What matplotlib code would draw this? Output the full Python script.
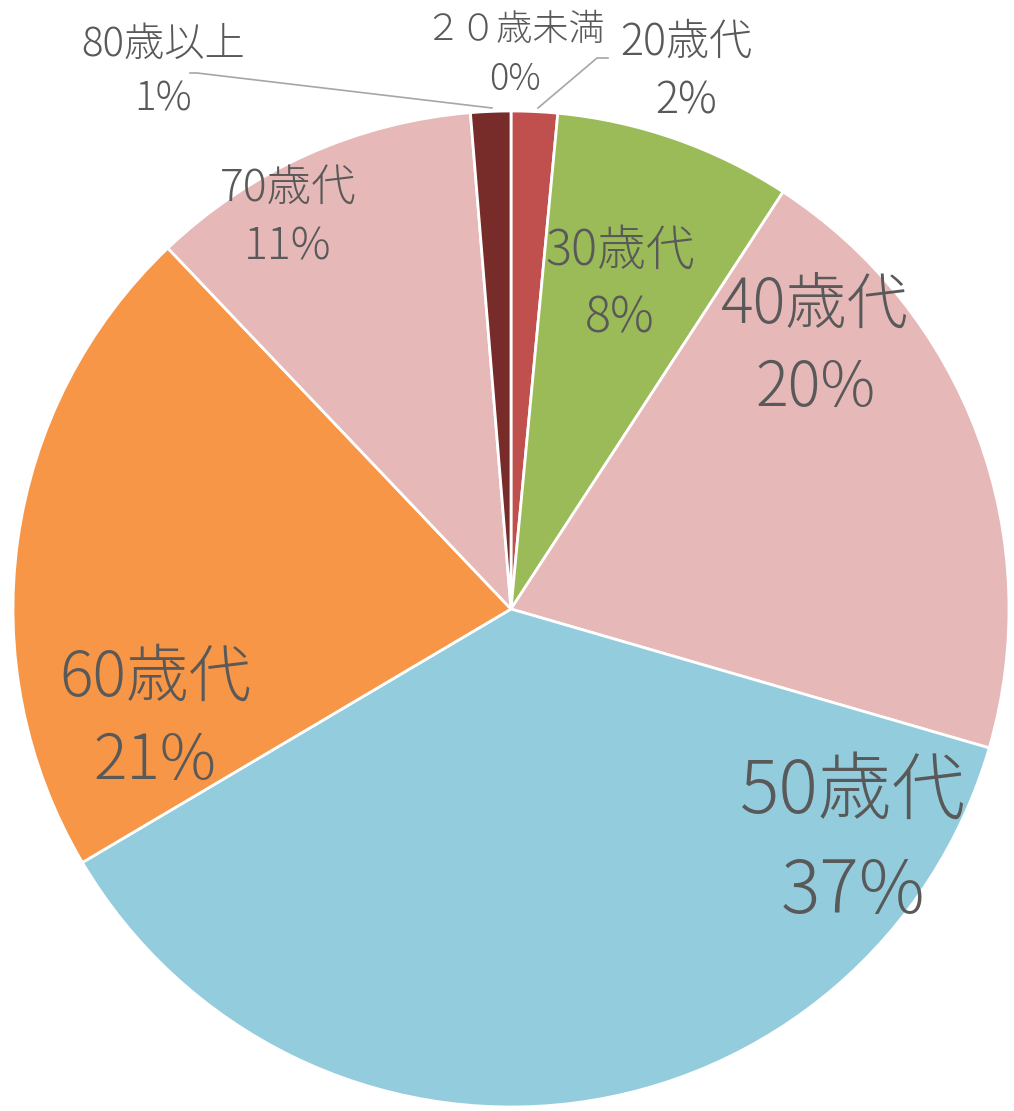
import matplotlib
matplotlib.use('Agg')
import matplotlib.pyplot as plt

plt.rcParams['font.family'] = ['Noto Sans CJK JP', 'DejaVu Sans']

# data, clockwise from 12 o'clock
age_groups = ["２０歳未満", "20歳代", "30歳代", "40歳代", "50歳代", "60歳代", "70歳代", "80歳以上"]
shares = [0.0, 1.5, 7.7, 20.3, 37.0, 21.4, 10.8, 1.3]

colors = ["#C0504D", "#C0504D", "#9BBB59", "#E6B9B8", "#93CDDD", "#F79646", "#E6B9B8", "#772C2A"]

# label layout (pixel coords from top-left), font sizes
W, H = 1014, 1111
label_pos = [(515, 55), (686, 72), (620, 285), (815, 347), (853, 843), (155, 720), (288, 218), (163, 72)]
label_size = [26, 31, 35, 44, 53, 45, 32, 29]
# leader lines for the small slices
leaders = {
    1: [(608, 58), (597, 58), (538, 108)],
    7: [(190, 73), (197, 73), (492, 108)],
}

CX, CY, R = 511, 609, 498

fig = plt.figure(figsize=(W / 100, H / 100), dpi=100)
ax = fig.add_axes([0, 0, 1, 1])
ax.set_xlim(0, W)
ax.set_ylim(0, H)
ax.set_aspect('equal')
ax.axis('off')

ax.pie(shares, colors=colors, startangle=90, counterclock=False,
       center=(CX, H - CY), radius=R, normalize=True,
       wedgeprops=dict(edgecolor='white', linewidth=2))

for i, (name, val) in enumerate(zip(age_groups, shares)):
    x, y = label_pos[i]
    ax.text(x, H - y, f"{name}\n{val:.0f}%", ha='center', va='center',
            fontsize=label_size[i], color='#595959', linespacing=1.4,
            fontweight='light')

for i, pts in leaders.items():
    ax.plot([p[0] for p in pts], [H - p[1] for p in pts], color='#A6A6A6', lw=1.2)

ax.set_xlim(0, W)
ax.set_ylim(0, H)
fig.savefig('out.png', dpi=100)
